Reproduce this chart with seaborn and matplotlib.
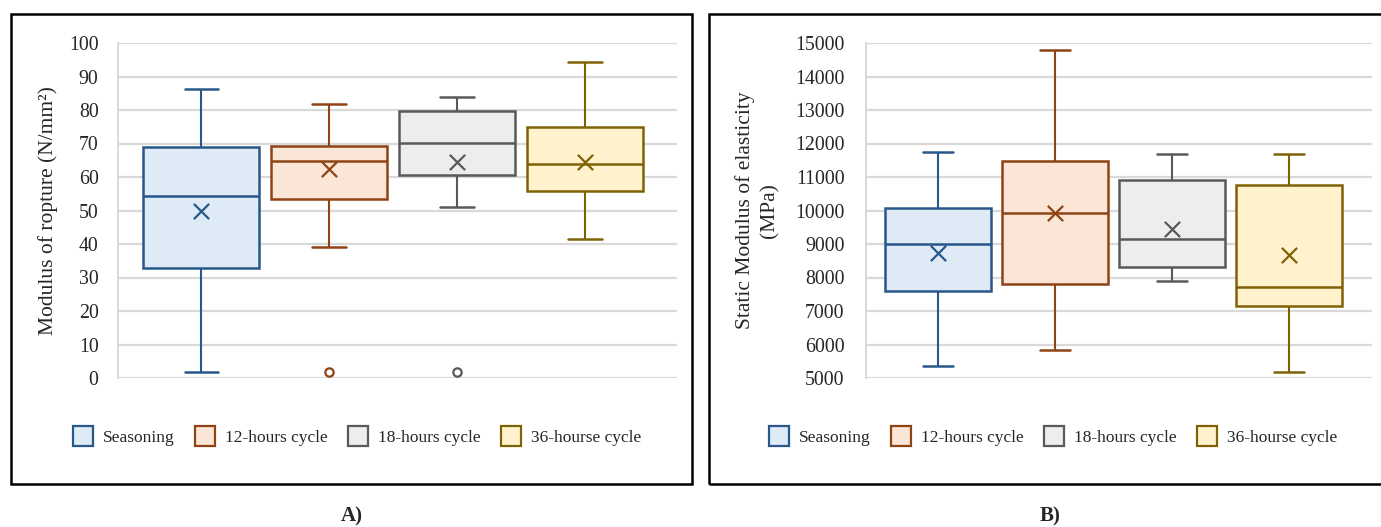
import numpy as np
import pandas as pd
import seaborn as sns
import matplotlib.pyplot as plt
from matplotlib.patches import Patch, Rectangle

sns.set_theme(style="white")
plt.rcParams["font.family"] = ["Liberation Serif", "DejaVu Serif"]

# Treatment groups
groups = ["Seasoning", "12-hours cycle", "18-hours cycle", "36-hourse cycle"]
fills = ["#DEEBF7", "#FBE5D6", "#EDEDED", "#FFF2CC"]
edges = ["#28578A", "#8E4314", "#595959", "#806206"]

# A) Modulus of rupture (N/mm2): whisker ends, quartiles, means, outliers
mor_low = [1.9, 39.2, 51.1, 41.5]
mor_q1 = [32.9, 53.5, 60.7, 55.8]
mor_med = [54.4, 64.8, 70.2, 63.8]
mor_q3 = [69.1, 69.2, 79.7, 74.8]
mor_high = [86.2, 81.8, 84.0, 94.4]
mor_mean = [50.0, 62.3, 64.5, 64.6]
mor_out_group = ["12-hours cycle", "18-hours cycle"]
mor_out_value = [1.9, 1.9]

# B) Static modulus of elasticity (MPa)
moe_low = [5350, 5840, 7900, 5170]
moe_q1 = [7605, 7800, 8300, 7155]
moe_med = [8990, 9940, 9140, 7725]
moe_q3 = [10060, 11465, 10910, 10750]
moe_high = [11750, 14780, 11695, 11685]
moe_mean = [8735, 9920, 9440, 8675]

W, H = 1381, 527
fig = plt.figure(figsize=(W / 100, H / 100), dpi=100)


def px_axes(left, right, top, bottom):
    return fig.add_axes([left / W, 1 - bottom / H, (right - left) / W, (bottom - top) / H])


def five_number_frame(low, q1, med, q3, high):
    rows = []
    for g, *vals in zip(groups, low, q1, med, q3, high):
        for v in vals:
            rows.append({"group": g, "value": v})
    return pd.DataFrame(rows)


def draw_panel(ax, low, q1, med, q3, high, mean, out_g, out_v, ylim, yticks, ylabel,
               xlim, labelpad, tickpad):
    df = five_number_frame(low, q1, med, q3, high)
    for g, fc, ec in zip(groups, fills, edges):
        sub = df[df["group"] == g]
        sns.boxplot(data=sub, x="group", y="value", order=groups, ax=ax,
                    color=fc, linecolor=ec, linewidth=1.6, width=0.91,
                    whis=(0, 100), showfliers=False, saturation=1,
                    capwidths=0.26,
                    boxprops=dict(facecolor=fc, edgecolor=ec, linewidth=1.8),
                    medianprops=dict(color=ec, linewidth=1.8),
                    whiskerprops=dict(color=ec, linewidth=1.5),
                    capprops=dict(color=ec, linewidth=1.8))
    mdf = pd.DataFrame({"group": groups, "value": mean})
    for g, ec in zip(groups, edges):
        sns.stripplot(data=mdf[mdf["group"] == g], x="group", y="value", order=groups,
                      ax=ax, jitter=False, marker="x", size=11, linewidth=1.6,
                      color=ec, edgecolor=ec, zorder=5)
    if out_g:
        odf = pd.DataFrame({"group": out_g, "value": out_v})
        for g, ec in zip(groups, edges):
            part = odf[odf["group"] == g]
            if len(part):
                sns.stripplot(data=part, x="group", y="value", order=groups, ax=ax,
                              jitter=False, marker="o", size=6, linewidth=1.6,
                              color="white", edgecolor=ec, zorder=5)
    ax.set_xlim(*xlim)
    ax.set_ylim(*ylim)
    ax.set_yticks(yticks)
    ax.set_xticks([])
    ax.set_xlabel("")
    ax.set_ylabel(ylabel, fontsize=15.5, labelpad=labelpad, linespacing=1.35)
    ax.tick_params(axis="y", length=0, pad=tickpad, labelsize=14.3)
    ax.grid(axis="y", color="#D9D9D9", linewidth=1.6)
    ax.set_axisbelow(True)
    for s in ["top", "right", "bottom"]:
        ax.spines[s].set_visible(False)
    ax.spines["left"].set_color("#D9D9D9")
    ax.spines["left"].set_linewidth(1.4)
    ax.set_facecolor("none")


axA = px_axes(118, 677, 43, 378)
draw_panel(axA, mor_low, mor_q1, mor_med, mor_q3, mor_high, mor_mean,
           mor_out_group, mor_out_value, (0, 100), np.arange(0, 101, 10),
           "Modulus of ropture (N/mm²)", (-0.65, 3.72), 8, 14)

axB = px_axes(866, 1372, 43, 378)
draw_panel(axB, moe_low, moe_q1, moe_med, moe_q3, moe_high, moe_mean,
           [], [], (5000, 15000), np.arange(5000, 15001, 1000),
           "Static Modulus of elasticity\n(MPa)", (-0.615, 3.71), 11, 15.5)

# Legends under each panel
handles = [Patch(facecolor=fc, edgecolor=ec, linewidth=1.6, label=g)
           for g, fc, ec in zip(groups, fills, edges)]
for cx in (357, 1053):
    fig.legend(handles=handles, loc="center", bbox_to_anchor=(cx / W, 1 - 436 / H),
               ncol=4, frameon=False, fontsize=12.5, handlelength=1.15,
               handleheight=1.4, handletextpad=0.6, columnspacing=1.15)

# Panel frames
fig.add_artist(Rectangle((11 / W, 1 - 484 / H), (692 - 11) / W, (484 - 14) / H,
                         transform=fig.transFigure, fill=False, edgecolor="black",
                         linewidth=1.8))
fig.add_artist(Rectangle((709 / W, 1 - 484 / H), (W + 10 - 709) / W, (484 - 14) / H,
                         transform=fig.transFigure, fill=False, edgecolor="black",
                         linewidth=1.8, clip_on=False))

fig.text(352 / W, 1 - 516 / H, "A)", ha="center", va="center", fontsize=15, fontweight="bold")
fig.text(1050 / W, 1 - 516 / H, "B)", ha="center", va="center", fontsize=15, fontweight="bold")

fig.savefig("out.png", dpi=100)
